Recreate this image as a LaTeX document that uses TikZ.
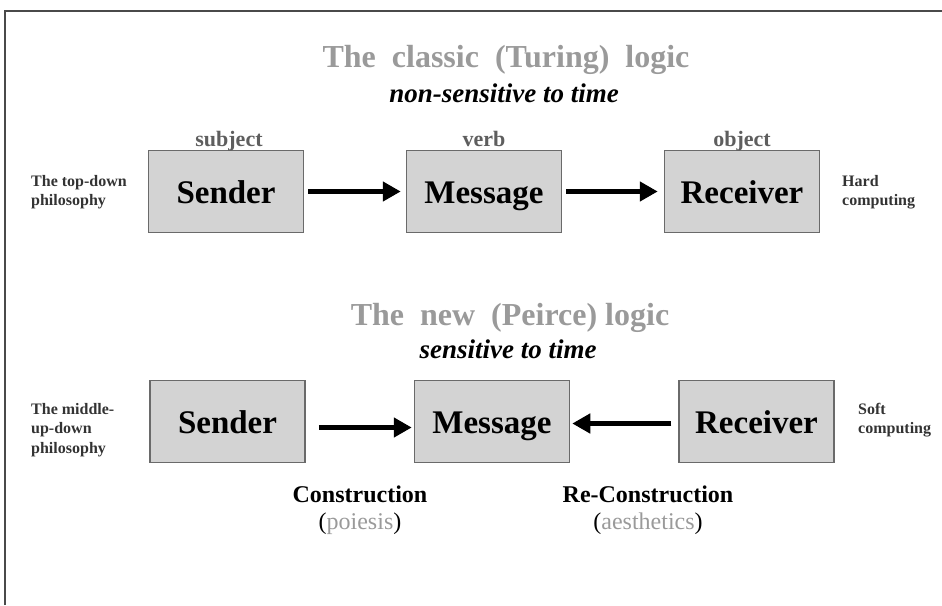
\documentclass[tikz,border=0pt]{standalone}
\usepackage{fontspec}
\setmainfont{Liberation Serif}
\usetikzlibrary{arrows.meta}
\definecolor{boxfill}{HTML}{D3D3D3}
\definecolor{boxline}{HTML}{6A6A6A}
\definecolor{titlegray}{HTML}{9A9A9A}
\definecolor{rolegray}{HTML}{5E5E5E}
\definecolor{framegray}{HTML}{4A4A4A}
\newcommand{\pxsize}[1]{\fontsize{#1}{1.25\dimexpr#1pt\relax}\selectfont}

\begin{document}
\begin{tikzpicture}[x=1pt,y=-1pt,
  agent/.style={draw=boxline,line width=1.5pt,fill=boxfill,minimum width=155pt,minimum height=82pt,
    text height=24pt,text depth=0pt,font=\pxsize{33}\bfseries},
  role/.style={anchor=base,color=rolegray,font=\pxsize{22}\bfseries},
  ttl/.style={anchor=base,color=titlegray,font=\pxsize{32}\bfseries},
  subttl/.style={anchor=base,font=\pxsize{27}\bfseries\itshape},
  side/.style={anchor=north west,align=left,inner sep=0pt,font=\fontsize{16}{19.5}\selectfont\bfseries,color=black!80},
  act/.style={anchor=base,font=\pxsize{24}\bfseries},
  ar/.style={-{Triangle[length=18pt,width=19pt]},line width=5pt},
]
\useasboundingbox (0,0) rectangle (942,605);
\draw[framegray,line width=2pt] (5,605) -- (5,11) -- (942,11);

% classic logic
\node[ttl] (t1) at (506,67) {The\ \ classic\ \ (Turing)\ \ logic};
\node[subttl] (st1) at (504,102) {non-sensitive to time};

\node[agent] (s1) at (226,191.5) {Sender};
\node[agent] (m1) at (484,191.5) {Message};
\node[agent] (r1) at (742,191.5) {Receiver};

\node[role] (l1) at (229,146) {subject};
\node[role] (l2) at (484,146) {verb};
\node[role] (l3) at (742,146) {object};

\draw[ar,shorten <=4pt,shorten >=5pt] (s1.east) -- (m1.west);
\draw[ar,shorten <=4pt,shorten >=6pt] (m1.east) -- (r1.west);

\node[side] (p1) at (31,175) {The top-down\\philosophy};
\node[side] (c1) at (842,175) {Hard\\computing};

% Peirce logic
\node[ttl] (t2) at (510,325) {The\ \ new\ \ (Peirce)\ logic};
\node[subttl] (st2) at (508,358) {sensitive to time};

\node[agent] (s2) at (227.5,421.5) {Sender};
\node[agent] (m2) at (492,421.5) {Message};
\node[agent] (r2) at (756.5,421.5) {Receiver};

\draw[ar,shorten <=13pt,shorten >=2pt] ([yshift=-6pt]s2.east) -- ([yshift=-6pt]m2.west);
\draw[ar,shorten <=7pt,shorten >=2pt] ([yshift=-2pt]r2.west) -- ([yshift=-2pt]m2.east);

\node[side] (p2) at (31,403) {The middle-\\up-down\\philosophy};
\node[side] (c2) at (858,403) {Soft\\computing};

\node[act] (a1) at (360,502) {Construction};
\node[act,font=\pxsize{24}] (b1) at (360,529) {(\textcolor{titlegray}{poiesis})};
\node[act] (a2) at (648,502) {Re-Construction};
\node[act,font=\pxsize{24}] (b2) at (648,529) {(\textcolor{titlegray}{aesthetics})};
\end{tikzpicture}
\end{document}
